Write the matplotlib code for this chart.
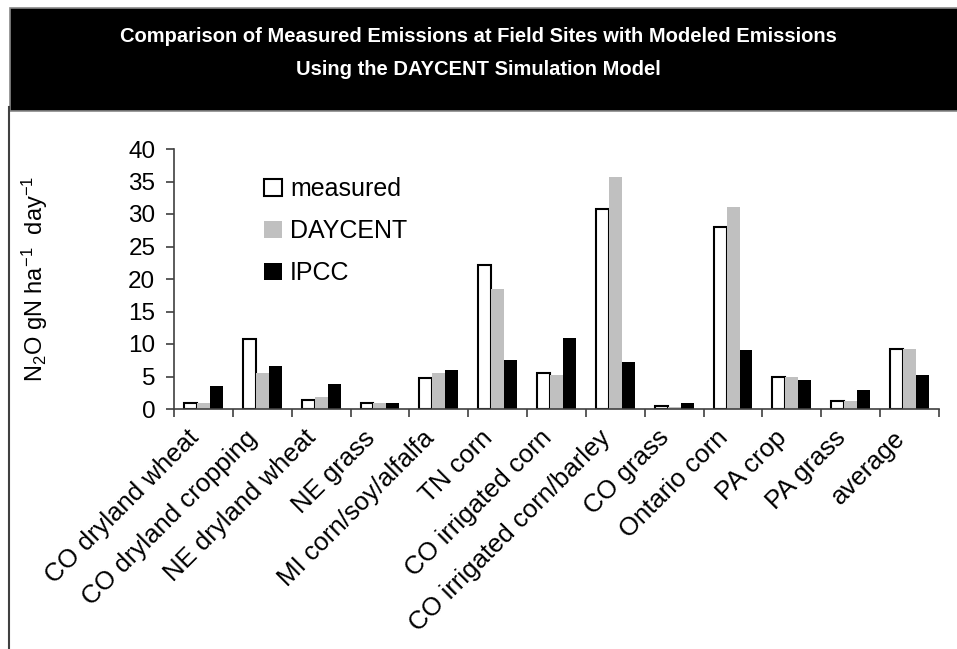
import matplotlib
matplotlib.use("Agg")
import matplotlib.pyplot as plt
import numpy as np

sites = ["CO dryland wheat", "CO dryland cropping", "NE dryland wheat", "NE grass",
         "MI corn/soy/alfalfa", "TN corn", "CO irrigated corn", "CO irrigated corn/barley",
         "CO grass", "Ontario corn", "PA crop", "PA grass", "average"]
measured = [1.0, 10.8, 1.4, 1.0, 4.7, 22.2, 5.6, 30.8, 0.4, 28.0, 5.0, 1.3, 9.3]
daycent = [1.0, 5.6, 1.9, 1.0, 5.6, 18.5, 5.2, 35.7, 0.3, 31.1, 4.9, 1.2, 9.2]
ipcc = [3.5, 6.6, 3.85, 1.0, 6.0, 7.5, 10.9, 7.2, 1.0, 9.1, 4.45, 2.9, 5.3]

plt.rcParams["font.family"] = ["Liberation Sans", "DejaVu Sans"]
plt.rcParams["mathtext.fontset"] = "custom"
plt.rcParams["mathtext.rm"] = "Liberation Sans"
plt.rcParams["mathtext.it"] = "Liberation Sans:italic"

axis_col = "#404040"

fig = plt.figure(figsize=(9.57, 6.49), dpi=100)
ax = fig.add_axes([174 / 957, 1 - 409 / 649, 765 / 957, 260 / 649])

# header box and left border
fig.patches.append(plt.Rectangle((10 / 957, 1 - 111 / 649), 1, 103 / 649,
                                 transform=fig.transFigure, facecolor="black",
                                 edgecolor="#888888", lw=1.2))
fig.lines.append(plt.Line2D([8.5 / 957, 8.5 / 957], [0, 1 - 107 / 649],
                            transform=fig.transFigure, color=axis_col, lw=1.5))
fig.text(0.5, 1 - 53 / 649,
         "Comparison of Measured Emissions at Field Sites with Modeled Emissions\n"
         "Using the DAYCENT Simulation Model",
         fontweight="bold", fontsize=14.5, color="white",
         ha="center", va="center", linespacing=1.95)

x = np.arange(len(sites))
w = 0.22
ax.bar(x - w, measured, w, facecolor="white", edgecolor="black", lw=1.5, label="measured")
ax.bar(x, daycent, w, color="#c0c0c0", label="DAYCENT")
ax.bar(x + w, ipcc, w, color="black", label="IPCC")

ax.set_xlim(-0.5, len(sites) - 0.5)
ax.set_ylim(0, 40)
ax.set_yticks(np.arange(0, 41, 5))
ax.tick_params(axis="y", labelsize=17.5, length=5.5, width=1.2, color=axis_col, direction="out", pad=8)

ax.set_xticks(np.arange(-0.5, len(sites), 1.0))
ax.set_xticklabels([])
ax.set_xticks(x, minor=True)
ax.set_xticklabels(sites, minor=True, rotation=45, ha="right", fontsize=18.5)
ax.tick_params(axis="x", which="major", length=5.5, width=1.2, color=axis_col)
ax.tick_params(axis="x", which="minor", length=0, pad=12)

for s in ["top", "right"]:
    ax.spines[s].set_visible(False)
for s in ["left", "bottom"]:
    ax.spines[s].set_color(axis_col)
    ax.spines[s].set_linewidth(1.2)

ax.set_ylabel(r"N$_2$O gN ha$^{-1}$  day$^{-1}$", fontsize=17)
ax.yaxis.set_label_coords(-0.162, 0.5)

ax.legend(loc="upper left", bbox_to_anchor=(264 / 957, 1 - 177 / 649),
          bbox_transform=fig.transFigure, frameon=False, fontsize=18,
          handlelength=0.7, handleheight=0.7, handletextpad=0.35,
          labelspacing=0.72, borderpad=0, borderaxespad=0)

fig.savefig("out.png", dpi=100)
